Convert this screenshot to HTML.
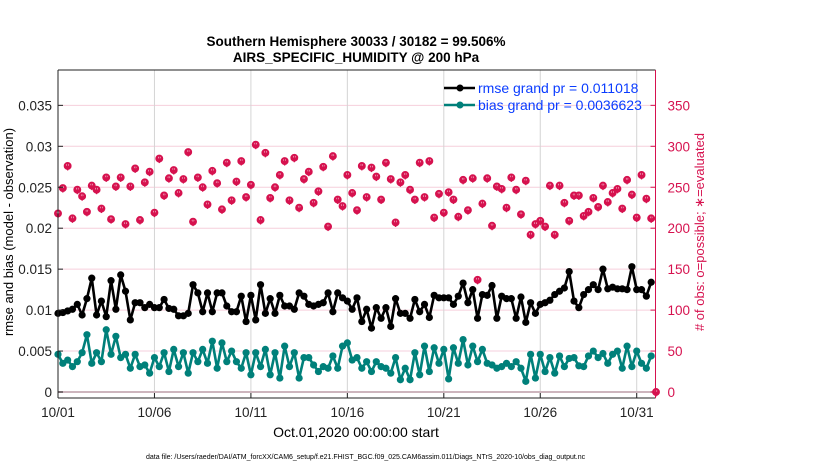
<!DOCTYPE html>
<html><head><meta charset="utf-8"><style>
body{margin:0;background:#fff;}
svg{display:block;font-family:"Liberation Sans",sans-serif;}
</style></head><body>
<svg id="chart" width="830" height="470" viewBox="0 0 830 470">
<text x="356" y="46" text-anchor="middle" font-size="13.5" font-weight="bold">Southern Hemisphere 30033 / 30182 = 99.506%</text>
<text x="356" y="62" text-anchor="middle" font-size="13.5" font-weight="bold">AIRS_SPECIFIC_HUMIDITY @ 200 hPa</text>
<g id="grid"></g>
<g id="series"></g>
<g id="axes"></g>
<g id="legend">
 <line x1="444" y1="88" x2="475" y2="88" stroke="#000" stroke-width="2.5"/>
 <circle cx="460" cy="88" r="3.5" fill="#000"/>
 <text x="478" y="93" font-size="14" fill="#0a3cff">rmse grand pr = 0.011018</text>
 <line x1="444" y1="105" x2="475" y2="105" stroke="#00807a" stroke-width="2.5"/>
 <circle cx="460" cy="105" r="3.5" fill="#00807a"/>
 <text x="478" y="110" font-size="14" fill="#0a3cff">bias grand pr = 0.0036623</text>
</g>
<text transform="translate(13,232) rotate(-90)" text-anchor="middle" font-size="13">rmse and bias (model - observation)</text>
<text transform="translate(704,232) rotate(-90)" text-anchor="middle" font-size="13" fill="#d6124f"># of obs: o=possible; ∗=evaluated</text>
<text x="356" y="437" text-anchor="middle" font-size="14">Oct.01,2020 00:00:00 start</text>
<text x="146" y="459" font-size="7">data file: /Users/raeder/DAI/ATM_forcXX/CAM6_setup/f.e21.FHIST_BGC.f09_025.CAM6assim.011/Diags_NTrS_2020-10/obs_diag_output.nc</text>
</svg>
<script>
const xTickLabels = ["10/01","10/06","10/11","10/16","10/21","10/26","10/31"];
const xTickDays = [0,5,10,15,20,25,30];
const yTickValues = [0,0.005,0.01,0.015,0.02,0.025,0.03,0.035];
const yTickLabels = ["0","0.005","0.01","0.015","0.02","0.025","0.03","0.035"];
const y2TickLabels = ["0","50","100","150","200","250","300","350"];
const rmse = [9.6,9.7,9.9,10.1,10.7,9.4,11.4,13.9,9.4,11.1,9.2,13.6,10.1,14.3,12.3,8.8,10.9,10.9,10.3,10.7,10.3,10.3,11.3,10.2,10.1,9.3,9.3,9.6,13.1,12.1,9.8,12.1,9.8,12.1,12.1,10.5,9.8,9.8,11.7,8.6,11.8,8.8,13.1,9.6,11.4,9.6,11.8,10.5,10.5,10.1,12.1,11.7,10.7,10.5,10.7,10.9,12.1,9.8,12.1,11.5,11.1,
10.1,11.5,8.6,10.1,7.8,10.3,9.0,10.3,8.0,11.4,9.6,9.6,9.0,11.3,9.8,10.7,9.1,11.8,11.5,11.5,11.5,10.7,11.7,13.3,10.9,12.5,9.0,11.9,11.8,13.0,9.0,11.7,11.4,11.4,9.0,11.6,8.5,10.9,9.6,10.7,10.9,11.2,11.9,12.3,12.7,14.7,11.1,10.3,11.9,12.5,13.1,12.5,15.0,12.6,12.8,12.6,12.6,12.5,15.3,12.5,12.5,11.7,13.4];
const bias = [4.6,3.5,3.9,3.1,3.7,4.8,7.0,3.5,4.8,3.7,7.6,4.6,6.8,4.2,4.6,2.9,4.6,3.1,3.3,2.3,4.2,3.1,4.8,2.5,5.2,3.1,4.8,2.3,4.8,3.7,5.2,3.5,6.2,2.9,6.0,3.7,5.0,3.7,2.9,4.8,2.1,4.8,3.1,5.2,2.1,4.8,1.7,5.6,3.1,4.8,1.7,4.2,4.2,3.3,2.5,3.1,2.9,4.4,2.9,5.6,6.0,
3.9,4.2,2.9,3.7,2.5,3.7,3.1,2.9,2.3,4.2,1.5,2.9,1.5,4.8,2.1,5.6,2.5,5.4,3.5,5.2,1.6,5.4,3.5,6.4,3.3,5.6,3.7,5.2,3.5,3.3,2.9,3.1,3.5,3.1,3.7,2.9,1.3,4.6,1.7,4.6,2.5,4.2,2.3,4.4,3.1,4.1,4.2,3.2,3.1,4.4,5.0,4.2,4.7,3.5,4.6,5.0,2.9,5.6,3.1,5.0,3.5,2.9,4.4];
const counts = [218,249,276,212,247,239,220,252,247,224,262,211,251,262,205,251,273,210,256,269,219,285,240,261,271,243,260,293,208,262,250,229,270,255,223,280,234,257,282,238,253,302,210,292,237,250,265,282,234,286,225,260,269,231,245,275,202,288,235,227,265,
243,222,276,238,274,263,235,280,260,207,256,265,247,235,280,238,282,213,242,219,244,235,214,259,222,261,137,230,261,203,251,248,225,262,247,217,258,192,205,209,202,252,192,252,231,209,240,240,215,220,237,226,252,232,243,248,224,259,241,213,265,236,212,0];
const stepDays = 0.25;

const NS="http://www.w3.org/2000/svg";
const L=58,R=655.5,T=70,B=398;
const xs=d=>L+(d/31)*(R-L+0.5);
const ys=v=>392-v/0.005*40.95;
const yc=c=>ys(c/10000);
function mk(tag,parent,attrs){const e=document.createElementNS(NS,tag);for(const k in attrs)e.setAttribute(k,attrs[k]);parent.appendChild(e);return e;}
const grid=document.getElementById('grid'),ser=document.getElementById('series'),ax=document.getElementById('axes');
yTickValues.forEach((v,i)=>{
 if(v===0)return;
 const g=mk('line',grid,{x1:L,x2:R,y1:ys(v),y2:ys(v),stroke:'#f6cfdc','stroke-width':1});
 
 
});
xTickDays.forEach((d,i)=>{
 if(d===0)return;
 const g=mk('line',grid,{x1:xs(d),x2:xs(d),y1:T,y2:B,stroke:'#d4d4d4','stroke-width':1});
 
 
});
const zl=mk('line',grid,{x1:L,x2:R,y1:ys(0),y2:ys(0),stroke:'#cdb5bd','stroke-width':2});


const cg=mk('g',ser,{});


counts.forEach((c,i)=>{
 const x=xs(i*stepDays),y=yc(c);
 const g=mk('g',cg,{stroke:'#d6124f','stroke-width':1.3,fill:'none'});
 
 
 mk('circle',g,{cx:x,cy:y,r:3.3,fill:'#d6124f'});
 mk('circle',g,{cx:x,cy:y-1,r:1.2,fill:'#fff',stroke:'none'});
 mk('line',g,{x1:x-3.5,x2:x+3.5,y1:y+1,y2:y+1});
 mk('line',g,{x1:x,x2:x,y1:y-3,y2:y+4.5});
});
function line(arr,color,name){
 const g=mk('g',ser,{});
 
 
 const pts=arr.map((v,i)=>xs(i*stepDays)+','+ys(v/1000)).join(' ');
 mk('polyline',g,{points:pts,fill:'none',stroke:color,'stroke-width':2.6,'stroke-linejoin':'round'});
 arr.forEach((v,i)=>{
  const p=mk('circle',g,{cx:xs(i*stepDays),cy:ys(v/1000),r:3.6,fill:color});
  
  
 });
}
line(rmse,'#000','rmse-series');
line(bias,'#00807a','bias-series');
const al=mk('line',ax,{x1:L,x2:L,y1:T,y2:B,stroke:'#222','stroke-width':1});


const ab=mk('line',ax,{x1:L,x2:R,y1:B,y2:B,stroke:'#222','stroke-width':1});


const at=mk('line',ax,{x1:L,x2:R,y1:T,y2:T,stroke:'#222','stroke-width':1});


const ar=mk('line',ax,{x1:R,x2:R,y1:T,y2:B,stroke:'#d6124f','stroke-width':1});


yTickValues.forEach((v,i)=>{
 const y=ys(v);
 mk('line',ax,{x1:L,x2:L+5,y1:y,y2:y,stroke:'#222'});
 mk('line',ax,{x1:R-5,x2:R,y1:y,y2:y,stroke:'#d6124f'});
 const t=mk('text',ax,{x:L-6,y:y+5,'text-anchor':'end','font-size':13.5,fill:'#222'});
 t.textContent=yTickLabels[i];
 
 
 const t2=mk('text',ax,{x:R+12,y:y+5,'font-size':13.5,fill:'#d6124f'});
 t2.textContent=y2TickLabels[i];
 
 
});
xTickDays.forEach((d,i)=>{
 const x=xs(d);
 mk('line',ax,{x1:x,x2:x,y1:B,y2:B-5,stroke:'#222'});
 const t=mk('text',ax,{x:x,y:417,'text-anchor':'middle','font-size':13.5,fill:'#222'});
 t.textContent=xTickLabels[i];
 
 
});
</script>
</body></html>
